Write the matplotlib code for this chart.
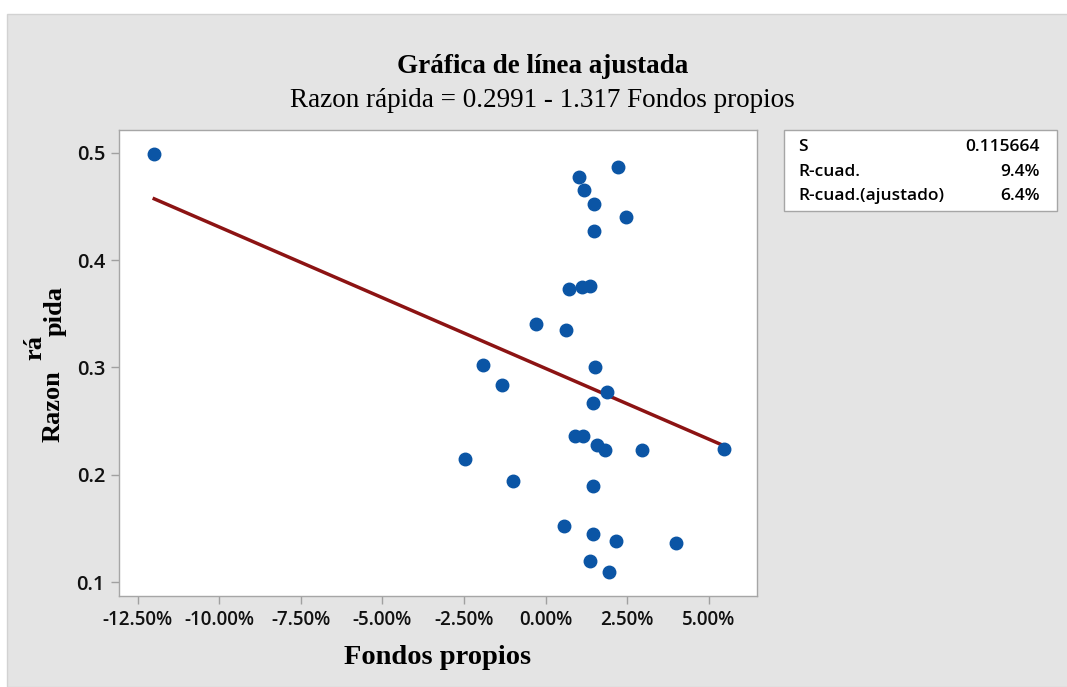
import numpy as np
import matplotlib
matplotlib.use('Agg')
import matplotlib.pyplot as plt
from matplotlib.ticker import PercentFormatter, FormatStrFormatter
from matplotlib.patches import Rectangle

# Fondos propios (%) y Razon rapida
fondos_pct = [-11.99, 2.22, 1.02, 1.19, 1.48, 2.46, 1.48, 0.73, 1.13, 1.37,
              -0.30, 0.62, -1.91, 1.53, -1.33, 1.87, 1.46, 0.89, 1.14, 1.59,
              1.81, 2.97, 5.48, -2.48, -0.99, 1.46, 0.56, 1.46, 2.16, 4.00,
              1.36, 1.94]
razon = [0.499, 0.487, 0.477, 0.465, 0.452, 0.440, 0.427, 0.373, 0.375, 0.376,
         0.340, 0.335, 0.302, 0.300, 0.284, 0.277, 0.267, 0.236, 0.236, 0.228,
         0.223, 0.223, 0.224, 0.215, 0.194, 0.190, 0.152, 0.145, 0.138, 0.137,
         0.120, 0.110]

intercept = 0.2991
slope = -1.317

x_ticks = [-0.125, -0.10, -0.075, -0.05, -0.025, 0.0, 0.025, 0.05]
y_ticks = [0.1, 0.2, 0.3, 0.4, 0.5]

stats_labels = ['S', 'R-cuad.', 'R-cuad.(ajustado)']
stats_values = ['0.115664', '9.4%', '6.4%']


def main():
	plt.rcParams['axes.unicode_minus'] = False
	W, H = 1067, 687
	fig = plt.figure(figsize=(W / 100, H / 100), dpi=100)
	fig.patch.set_facecolor('white')
	fig.patches.append(Rectangle((7 / W, 0), 1, 1 - 14 / H, transform=fig.transFigure,
		facecolor='#e4e4e4', edgecolor='#d2d2d2', lw=1, zorder=-10))

	serif = 'Liberation Serif'
	sans = 'Open Sans'

	ax = fig.add_axes([119 / W, 1 - 596 / H, (757 - 119) / W, (596 - 130) / H])
	ax.set_facecolor('white')

	x = np.array(fondos_pct) / 100
	y = np.array(razon)
	xl = np.linspace(x.min(), x.max(), 100)
	ax.plot(xl, intercept + slope * xl, color='#8c1313', lw=2.5, zorder=2)
	ax.plot(x, y, 'o', color='#0b55a5', markersize=9, zorder=3)

	ax.set_xlim(-0.1307, 0.0648)
	ax.set_ylim(0.0872, 0.5211)
	ax.set_xticks(x_ticks)
	ax.set_yticks(y_ticks)
	ax.xaxis.set_major_formatter(PercentFormatter(xmax=1, decimals=2))
	ax.yaxis.set_major_formatter(FormatStrFormatter('%.1f'))
	ax.tick_params(direction='out', length=6, width=1, color='#a0a0a0', pad=4)
	ax.tick_params(axis='x', labelsize=13.5)
	ax.tick_params(axis='y', labelsize=14.5)
	for lab in ax.get_xticklabels() + ax.get_yticklabels():
		lab.set_family(sans)
		lab.set_weight('semibold')
		lab.set_color('#111111')
	for sp in ax.spines.values():
		sp.set_color('#a6a6a6')
		sp.set_linewidth(1)

	# titulos
	fig.text(543 / W, 1 - 73 / H, 'Gráfica de línea ajustada', family=serif, weight='bold',
		fontsize=19.5, ha='center', va='baseline')
	fig.text(542 / W, 1 - 107 / H, 'Razon rápida = 0.2991 - 1.317 Fondos propios', family=serif,
		fontsize=19.5, ha='center', va='baseline')

	fig.text(438 / W, 1 - 664 / H, 'Fondos propios', family=serif, weight='bold',
		fontsize=20.5, ha='center', va='baseline')
	fig.text(53 / W, 1 - 406 / H, 'Razon', family=serif, weight='bold', fontsize=19,
		rotation=90, ha='center', va='center')
	fig.text(35 / W, 1 - 347 / H, 'rá', family=serif, weight='bold', fontsize=19,
		rotation=90, ha='center', va='center')
	fig.text(55 / W, 1 - 311 / H, 'pida', family=serif, weight='bold', fontsize=19,
		rotation=90, ha='center', va='center')

	# tabla de estadisticos
	fig.patches.append(Rectangle((784 / W, 1 - 211 / H), (1057 - 784) / W, (211 - 130) / H,
		transform=fig.transFigure, facecolor='white', edgecolor='#a6a6a6', lw=1))
	rows_y = [147, 172, 196]
	for lab, val, ry in zip(stats_labels, stats_values, rows_y):
		fig.text(798 / W, 1 - ry / H, lab, family=sans, weight='semibold', fontsize=12.5,
			ha='left', va='center')
		fig.text(1040 / W, 1 - ry / H, val, family=sans, weight='semibold', fontsize=12.5,
			ha='right', va='center')

	fig.savefig('out.png', dpi=100)


if __name__ == '__main__':
	main()
